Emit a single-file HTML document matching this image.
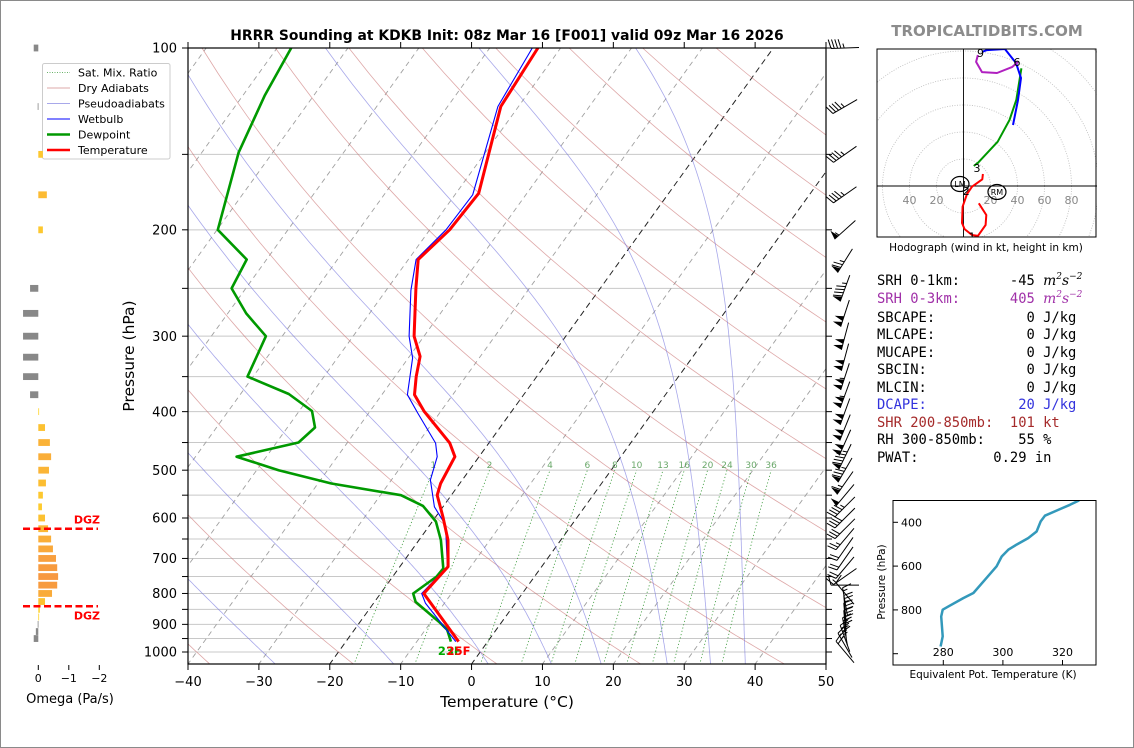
<!DOCTYPE html>
<html><head><meta charset="utf-8"><title>HRRR Sounding KDKB</title>
<style>
html,body{margin:0;padding:0;background:#fff;}
svg{display:block;font-family:"DejaVu Sans","Liberation Sans",sans-serif;}
.mono{font-family:"DejaVu Sans Mono","Liberation Mono",monospace;font-size:13.8px;white-space:pre;}
</style></head>
<body>
<svg id="chart" width="1134" height="748" viewBox="0 0 1134 748" xmlns="http://www.w3.org/2000/svg">
<rect x="0.5" y="0.5" width="1133" height="747" fill="#fff" stroke="#8a8a8a"/>
<defs>
<clipPath id="mainclip"><rect x="188" y="48" width="638" height="616"/></clipPath>
<clipPath id="hodoclip"><rect x="877" y="49" width="220" height="188"/></clipPath>
<clipPath id="thclip"><rect x="893" y="500" width="204" height="165"/></clipPath>
</defs>
<text x="507" y="40" text-anchor="middle" font-size="13.9" font-weight="bold">HRRR Sounding at KDKB Init: 08z Mar 16 [F001] valid 09z Mar 16 2026</text>
<text x="987" y="36" text-anchor="middle" font-size="15" font-weight="bold" fill="#8c8c8c">TROPICALTIDBITS.COM</text>
<g id="main"></g>
<g id="omega"></g>
<g id="hodo"></g>
<g id="theta"></g>
<g id="stats">
<text class="mono" x="877" y="285">SRH 0-1km:      -45 <tspan font-family="DejaVu Serif,serif" font-style="italic">m<tspan font-size="9" dy="-6">2</tspan><tspan dy="6">s</tspan><tspan font-size="9" dy="-6">−2</tspan></tspan></text>
<text class="mono" x="877" y="303" fill="#a030a8">SRH 0-3km:      405 <tspan font-family="DejaVu Serif,serif" font-style="italic">m<tspan font-size="9" dy="-6">2</tspan><tspan dy="6">s</tspan><tspan font-size="9" dy="-6">−2</tspan></tspan></text>
<text class="mono" x="877" y="322">SBCAPE:           0 J/kg</text>
<text class="mono" x="877" y="339">MLCAPE:           0 J/kg</text>
<text class="mono" x="877" y="357">MUCAPE:           0 J/kg</text>
<text class="mono" x="877" y="374">SBCIN:            0 J/kg</text>
<text class="mono" x="877" y="392">MLCIN:            0 J/kg</text>
<text class="mono" x="877" y="409" fill="#3333dd">DCAPE:           20 J/kg</text>
<text class="mono" x="877" y="427" fill="#a52a2a">SHR 200-850mb:  101 kt</text>
<text class="mono" x="877" y="444">RH 300-850mb:    55 %</text>
<text class="mono" x="877" y="462">PWAT:         0.29 in</text>
</g>
</svg>
<script>
// ---------- DATA ----------
const tempP=[961,800,722,653,597,550,526,475,451,400,375,350,324,300,250,224,200,174,125,100];
const tempT=[-4.1,-13.9,-13.2,-15.9,-19.0,-22.0,-22.7,-23.4,-25.5,-32.3,-35.4,-37.0,-38.5,-41.4,-46.0,-48.6,-47.2,-46.8,-52.5,-53.2];
const wbP=[961,830,800,722,616,575,519,475,451,402,375,326,300,252,224,200,175,125,100];
const wbT=[-4.5,-12.7,-14.2,-13.3,-17.8,-21.2,-24.5,-25.9,-27.5,-33.1,-36.4,-39.4,-42.1,-46.5,-48.9,-47.7,-47.5,-52.9,-54.0];
const dewP=[961,919,891,826,800,750,727,653,608,573,550,526,500,475,450,425,399,374,350,300,275,250,224,200,149,120,100];
const dewT=[-5.2,-6.9,-8.9,-14.2,-15.4,-13.8,-13.7,-16.9,-19.5,-22.9,-27.1,-38.1,-46.9,-54.2,-46.9,-46.1,-48.2,-53.2,-60.8,-62.3,-67.4,-72.0,-72.8,-79.9,-84.8,-86.9,-88.0];
const xTicks=[-40,-30,-20,-10,0,10,20,30,40,50];
const pLabels=[100,200,300,400,500,600,700,800,900,1000];
const pGrid=[100,150,200,250,300,350,400,450,500,550,600,650,700,750,800,850,900,950,1000];
const mixRatios=[1,2,4,6,8,10,13,16,20,24,30,36];
const dryT0=[-40,-20,0,20,40,60,80,100,120,140,160,180,200];
const moistT0=[-95,-78,-61,-44,-27.5,-10.8,2.5,11.4,18.4,27.7,33.8,38.7];
const barbP=[100,125,150,175,200,225,250,275,300,325,350,375,400,425,450,475,500,525,550,575,600,625,650,675,700,725,750,775,800,825,850,875,900,925,950,975,1000];
const barbSpd=[45,45,45,45,55,75,95,100,100,100,105,105,100,100,100,95,85,65,50,45,40,30,25,20,20,20,15,10,10,15,25,30,35,35,35,25,20];
const barbDir=[268,240,235,235,228,212,200,198,195,195,198,200,200,202,204,206,210,215,220,225,225,225,220,215,215,220,235,270,320,350,355,355,355,350,340,330,320];
const omP=[100,125,150,175,200,250,275,300,325,350,375,400,425,450,475,500,525,550,575,600,625,650,675,700,725,750,775,800,825,850,875,900,925,950];
const omV=[0.15,0.02,-0.15,-0.28,-0.15,0.27,0.5,0.5,0.5,0.5,0.27,-0.02,-0.22,-0.38,-0.42,-0.35,-0.25,-0.15,-0.12,-0.22,-0.32,-0.42,-0.48,-0.58,-0.62,-0.65,-0.62,-0.45,-0.22,-0.05,-0.01,0.02,0.08,0.15];
const omTicks=[0,-1,-2];
const dgzP=[625,840];
const hodoRedU=[11.3,16.9,16.4,10.7,6.3,0.8,-1.1,-0.7,2.6,6.3,13.9,14.4];
const hodoRedV=[-12.8,-21.5,-28.9,-37.0,-36.3,-31.9,-27.4,-15.3,-5.9,-0.5,5.0,8.9];
const hodoGreenU=[7.6,10.9,25.3,34.1,39.1,42.9];
const hodoGreenV=[14.8,17.3,32.8,48.9,63.7,87.2];
const hodoBlueU=[36.7,40.4,42.6,38.9,30.7,17.4,13.7];
const hodoBlueV=[45.2,63.7,80.0,91.1,101.5,100.7,99.3];
const hodoMagU=[10.7,9.3,13.7,24.8,35.9,40.4];
const hodoMagV=[97.0,91.9,84.4,83.7,88.1,91.9];
const hodoRings=[20,40,60,80,100,120,140];
const hodoTickVals=[-40,-20,20,40,60,80];
const hodoKmLabels=['1','2','3','6','9'];
const hodoKmU=[6.3,2.0,10.0,39.6,12.6];
const hodoKmV=[-37.5,-3.7,13.3,91.8,98.5];
const thP=[967,921,830,799,784,746,723,662,601,556,525,502,472,442,396,370,346,320,300];
const thK=[279.1,279.8,279.3,279.8,281.7,286.7,290.1,294.0,297.9,299.6,301.8,304.6,308.5,311.3,312.7,314.1,318.1,322.5,325.6];
const thPTicks=[400,600,800,1000];
const thKTicks=[280,300,320];

// ---------- AXES ----------
const NS='http://www.w3.org/2000/svg';
const X0=188,PXC=7.089,SK=0.72,YB=664;
function yP(p){return 48+604*Math.log10(p/100);}
function xT(T,p){return X0+(T+40)*PXC+SK*(YB-yP(p));}
function mk(tag,parent){const e=document.createElementNS(NS,tag);parent.appendChild(e);return e;}
function ptsStr(a){return a.map(q=>q[0].toFixed(1)+','+q[1].toFixed(1)).join(' ');}
function line(parent,x1,y1,x2,y2,stroke,w,dash){const e=mk('line',parent);e.setAttribute('x1',x1);e.setAttribute('y1',y1);e.setAttribute('x2',x2);e.setAttribute('y2',y2);e.setAttribute('stroke',stroke);e.setAttribute('stroke-width',w);if(dash)e.setAttribute('stroke-dasharray',dash);return e;}
function pl(parent,pts,stroke,w,dash){const e=mk('polyline',parent);e.setAttribute('points',ptsStr(pts));e.setAttribute('fill','none');e.setAttribute('stroke',stroke);e.setAttribute('stroke-width',w);e.setAttribute('stroke-linejoin','round');if(dash)e.setAttribute('stroke-dasharray',dash);return e;}
function txt(parent,x,y,s,size,anchor,fill){const e=mk('text',parent);e.setAttribute('x',x);e.setAttribute('y',y);e.setAttribute('font-size',size);e.setAttribute('text-anchor',anchor||'start');if(fill)e.setAttribute('fill',fill);e.textContent=s;return e;}

const main=document.getElementById('main');
const bg=mk('g',main);
bg.setAttribute('clip-path','url(#mainclip)');



pGrid.forEach(p=>{
  const e=line(bg,188,yP(p),826,yP(p),'#c8c8c8',1);
  
  
});
for(let T=-130;T<=50;T+=10){
  const blk=(T===0||T===-20);
  const e=line(bg,xT(T,1050),yP(1050),xT(T,100),yP(100),blk?'#222':'#a0a0a0',blk?1:0.9,blk?'6,4':'5,4');
  
  
}
dryT0.forEach(t0=>{
  const th=t0+273.15, pts=[];
  for(let p=1050;p>=100;p-=10){pts.push([xT(th*Math.pow(p/1000,0.2857)-273.15,p),yP(p)]);}
  const e=pl(bg,pts,'rgba(200,110,110,0.6)',0.8);
  
  
});
function es(tc){return 6.112*Math.exp(17.67*tc/(tc+243.5));}
moistT0.forEach(t0=>{
  let T=t0+273.15; const pts=[];
  for(let p=1050;p>=100;p-=5){
    pts.push([xT(T-273.15,p),yP(p)]);
    const e1=es(T-273.15), rs=0.622*e1/(p-e1);
    const dTdp=(287.04*T+2.501e6*rs)/(p*(1005.7+2.501e6*2.501e6*rs*0.622/(287.04*T*T)));
    T+=dTdp*(-5);
  }
  const e=pl(bg,pts,'rgba(110,110,220,0.6)',0.8);
  
  
});
function tdFromW(w,p){const e=p*w/(622+w);const L=Math.log(e/6.112);return 243.5*L/(17.67-L);}
mixRatios.forEach(w=>{
  const pts=[];
  for(let p=1050;p>=500;p-=10){pts.push([xT(tdFromW(w,p),p),yP(p)]);}
  const e=pl(bg,pts,'#3a9a3a',0.8,'1.2,2.2');
  
  
  const t=txt(bg,xT(tdFromW(w,500),500),468,String(w),9,'middle','#6aa86a');
  
  
});

const prof=mk('g',main);
prof.setAttribute('clip-path','url(#mainclip)');


const dewLine=pl(prof,dewP.map((p,i)=>[xT(dewT[i],p),yP(p)]),'#009900',2.6);


const wbLine=pl(prof,wbP.map((p,i)=>[xT(wbT[i],p),yP(p)]),'#0000ff',1.1);


const tLine=pl(prof,tempP.map((p,i)=>[xT(tempT[i],p),yP(p)]),'#ff0000',3);


const sfcD=txt(main,xT(dewT[0],dewP[0])-13,655,Math.round(dewT[0]*1.8+32)+'F',11.5,'start','#00aa00');
sfcD.setAttribute('font-weight','bold');


const sfcT=txt(main,xT(tempT[0],tempP[0])-12,655,Math.round(tempT[0]*1.8+32)+'F',11.5,'start','#ff0000');
sfcT.setAttribute('font-weight','bold');



const ax=mk('g',main);


const fr=mk('rect',ax);
fr.setAttribute('x',188);fr.setAttribute('y',48);fr.setAttribute('width',638);fr.setAttribute('height',616);
fr.setAttribute('fill','none');fr.setAttribute('stroke','#000');fr.setAttribute('stroke-width',1.2);


pGrid.forEach(p=>{
  const a=line(ax,182,yP(p),188,yP(p),'#000',1);
  
  
  const b=line(ax,826,yP(p),832,yP(p),'#000',1);
  
  
});
pLabels.forEach(p=>{
  const t=txt(ax,177,yP(p)+4.7,String(p),13,'end');
  
  
});
xTicks.forEach(T=>{
  const x=X0+(T+40)*PXC;
  const a=line(ax,x,664,x,670,'#000',1);
  
  
  const b=line(ax,x,42,x,48,'#000',1);
  
  
  const t=txt(ax,x,686,T<0?'−'+Math.abs(T):String(T),13,'middle');
  
  
});
const xl=txt(ax,507,707,'Temperature (°C)',15.5,'middle');


const yl=txt(ax,0,0,'Pressure (hPa)',15.5,'middle');
yl.setAttribute('transform','translate(134,356) rotate(-90)');



const bw=mk('g',main);


barbP.forEach((p,i)=>{
  const g=mk('g',bw);
  
  
  const d=barbDir[i]*Math.PI/180, sx=Math.sin(d), sy=-Math.cos(d), nx=-sy, ny=sx;
  const cx=845, cy=yP(p);
  const ex=cx+sx*14, ey=cy+sy*14;
  line(g,ex,ey,cx-sx*14,cy-sy*14,'#000',1);
  let spd=Math.round(barbSpd[i]/5)*5, pos=0;
  let flags=Math.floor(spd/50); spd-=flags*50;
  let full=Math.floor(spd/10); spd-=full*10; const half=spd>=5;
  for(let k=0;k<flags;k++){
    const ax1=ex-sx*pos, ay1=ey-sy*pos, bx=ex-sx*(pos+5), by=ey-sy*(pos+5);
    const px=ex-sx*(pos+2.5)+nx*9, py=ey-sy*(pos+2.5)+ny*9;
    const f=mk('polygon',g);
    f.setAttribute('points',[ax1,ay1,px,py,bx,by].map(v=>v.toFixed(1)).join(','));
    f.setAttribute('fill','#000');
    pos+=6;
  }
  for(let k=0;k<full;k++){
    const px=ex-sx*pos, py=ey-sy*pos;
    line(g,px,py,px+nx*9+sx*2.5,py+ny*9+sy*2.5,'#000',1);
    pos+=3.3;
  }
  if(half){
    if(flags===0&&full===0)pos=3.3;
    const px=ex-sx*pos, py=ey-sy*pos;
    line(g,px,py,px+nx*4.5+sx*1.2,py+ny*4.5+sy*1.2,'#000',1);
  }
});

const lg=mk('g',main);


const lr=mk('rect',lg);
lr.setAttribute('x',42.5);lr.setAttribute('y',63.5);lr.setAttribute('width',127.5);lr.setAttribute('height',95.5);lr.setAttribute('rx',2);
lr.setAttribute('fill','rgba(255,255,255,0.85)');lr.setAttribute('stroke','#ccc');


const legNames=['Sat. Mix. Ratio','Dry Adiabats','Pseudoadiabats','Wetbulb','Dewpoint','Temperature'];
const legCols=['#3a9a3a','rgba(200,110,110,0.6)','rgba(110,110,220,0.6)','#0000ff','#009900','#ff0000'];
const legW=[0.8,1,1,1,2.5,2.5];
legNames.forEach((n,i)=>{
  const y=72.5+i*15.5;
  const l=line(lg,47,y,70,y,legCols[i],legW[i],i===0?'1,1.5':null);
  
  
  const t=txt(lg,78,y+3.8,n,11,'start');
  
  
});

// ---------- OMEGA ----------
const om=document.getElementById('omega');
const OX=38.3, OS=30.5;
function omColor(v){if(v>=0)return '#888888';const f=Math.min(1,-v/0.65);const r=Math.round(255-8*f),g=Math.round(214-62*f),b=Math.round(42+22*f);return 'rgb('+r+','+g+','+b+')';}
omP.forEach((p,i)=>{
  const v=omV[i], x1=OX, x2=OX-v*OS;
  const r=mk('rect',om);
  r.setAttribute('x',Math.min(x1,x2));r.setAttribute('y',yP(p)-3.4);
  r.setAttribute('width',Math.max(0.8,Math.abs(x2-x1)));r.setAttribute('height',6.8);
  r.setAttribute('fill',omColor(v));
  
  
});
omTicks.forEach(t=>{
  const x=OX-t*OS;
  const a=line(om,x,665,x,670,'#000',1);
  
  
  const l=txt(om,x,682,t===0?'0':'−'+Math.abs(t),11,'middle');
  
  
});
const oml=txt(om,70,703,'Omega (Pa/s)',13,'middle');


dgzP.forEach((p,i)=>{
  const y=yP(p);
  const l=line(om,23,y,98,y,'#ff0000',2.5,'7,3.5');
  
  
  const t=txt(om,100,i===0?y-5:y+13,'DGZ',11,'end','#ff0000');
  t.setAttribute('font-weight','bold');
  
  
});

// ---------- HODOGRAPH ----------
const hd=document.getElementById('hodo');
const HX=963.5, HY=186, HS=1.35;
function hx(u){return HX+u*HS;} function hy(v){return HY-v*HS;}
const hclip=mk('g',hd);
hclip.setAttribute('clip-path','url(#hodoclip)');


hodoRings.forEach(r=>{
  const c=mk('circle',hclip);
  c.setAttribute('cx',HX);c.setAttribute('cy',HY);c.setAttribute('r',r*HS);
  c.setAttribute('fill','none');c.setAttribute('stroke','#bbb');c.setAttribute('stroke-width',0.8);c.setAttribute('stroke-dasharray','1,1.5');
  
  
});
const hax1=line(hclip,877,HY,1097,HY,'#000',0.9);


const hax2=line(hclip,HX,49,HX,237,'#000',0.9);


hodoTickVals.forEach(v=>{
  const t=txt(hclip,hx(v),204,String(Math.abs(v)),11,'middle','#888');
  
  
});
[[hodoRedU,hodoRedV,'#ff0000','hodograph-0-3km'],[hodoGreenU,hodoGreenV,'#009900','hodograph-3-6km'],[hodoBlueU,hodoBlueV,'#0000ff','hodograph-6-9km'],[hodoMagU,hodoMagV,'#b020c0','hodograph-9-12km']].forEach(s=>{
  const e=pl(hclip,s[0].map((u,i)=>[hx(u),hy(s[1][i])]),s[2],2);
  
  
});
hodoKmLabels.forEach((k,i)=>{
  const t=txt(hclip,hx(hodoKmU[i]),hy(hodoKmV[i])+4,k,11,'middle','#000');
  
  
});
[['LM',-2.6,1.5],['RM',24.8,-4.4]].forEach(m=>{
  const e=mk('ellipse',hclip);
  e.setAttribute('cx',hx(m[1]));e.setAttribute('cy',hy(m[2]));e.setAttribute('rx',9);e.setAttribute('ry',7.5);
  e.setAttribute('fill','none');e.setAttribute('stroke','#000');e.setAttribute('stroke-width',1.2);
  
  
  const t=txt(hclip,hx(m[1]),hy(m[2])+3,m[0],8,'middle');
  
  
});
const hb=mk('rect',hd);
hb.setAttribute('x',877);hb.setAttribute('y',49);hb.setAttribute('width',219);hb.setAttribute('height',188);
hb.setAttribute('fill','none');hb.setAttribute('stroke','#000');


const hc=txt(hd,986,251,'Hodograph (wind in kt, height in km)',10.5,'middle');



// ---------- THETA-E ----------
const th=document.getElementById('theta');
function tx(k){return 943.3+(k-280)*2.98;} function ty(p){return 522.3+(p-400)*0.219;}
const thl=pl(th,thP.map((p,i)=>[tx(thK[i]),ty(p)]),'#3399bb',2.5);
thl.setAttribute('clip-path','url(#thclip)');


const tb=mk('rect',th);
tb.setAttribute('x',893);tb.setAttribute('y',500.5);tb.setAttribute('width',203);tb.setAttribute('height',164.5);
tb.setAttribute('fill','none');tb.setAttribute('stroke','#000');


thPTicks.forEach(p=>{
  const a=line(th,893,ty(p),898,ty(p),'#000',1);
  
  
  if(p<1000){const t=txt(th,922,ty(p)+4,String(p),11,'end');
  
  }
});
thKTicks.forEach(k=>{
  const a=line(th,tx(k),660,tx(k),665,'#000',1);
  
  
  const t=txt(th,tx(k),656,String(k),11,'middle');
  
  
});
const tt=txt(th,993,678,'Equivalent Pot. Temperature (K)',10.5,'middle');


const ty2=txt(th,0,0,'Pressure (hPa)',10.5,'middle');
ty2.setAttribute('transform','translate(885,582) rotate(-90)');


</script>
</body></html>
